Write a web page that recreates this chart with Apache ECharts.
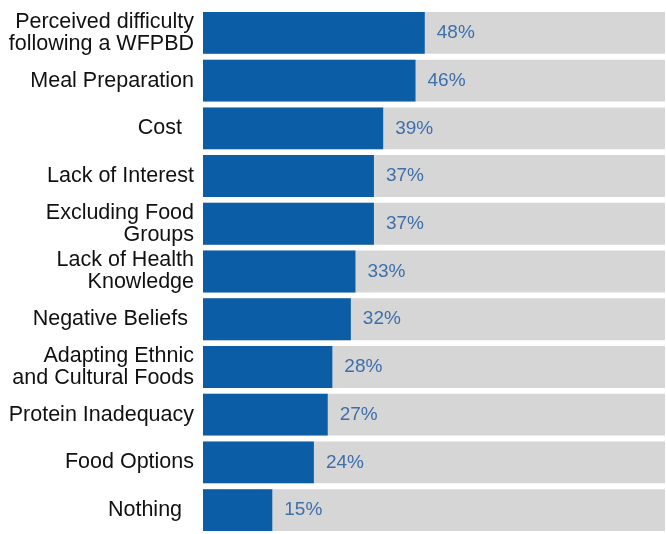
<!DOCTYPE html>
<html>
<head>
<meta charset="utf-8">
<script src="https://cdn.jsdelivr.net/npm/echarts@6/dist/echarts.min.js"></script>
<style>
  html, body { margin: 0; padding: 0; background: #ffffff; }
  #chart { width: 666px; height: 534px; }
</style>
</head>
<body>
<div id="chart"></div>
<script>
// Reported barriers to following a whole-food plant-based diet (share of respondents, %)
const categories = [
  'Perceived difficulty\nfollowing a WFPBD',
  'Meal Preparation',
  'Cost  ',
  'Lack of Interest',
  'Excluding Food\nGroups',
  'Lack of Health\nKnowledge',
  'Negative Beliefs ',
  'Adapting Ethnic\nand Cultural Foods',
  'Protein Inadequacy',
  'Food Options',
  'Nothing  '
];
const percentages = [48, 46, 39, 37, 37, 33, 32, 28, 27, 24, 15];
const axisMax = 100;

const chart = echarts.init(document.getElementById('chart'), null, { renderer: 'canvas' });

chart.setOption({
  animation: false,
  backgroundColor: '#ffffff',
  grid: { left: 203, right: 1, top: 9, bottom: -2, containLabel: false },
  xAxis: {
    type: 'value',
    min: 0,
    max: axisMax,
    show: false
  },
  yAxis: {
    type: 'category',
    data: categories,
    inverse: true,
    axisLine: { show: false },
    axisTick: { show: false },
    axisLabel: {
      margin: 9,
      color: '#111111',
      fontFamily: 'Liberation Sans, Arial, sans-serif',
      fontSize: 21.5,
      lineHeight: 22,
      align: 'right'
    }
  },
  series: [
    {
      type: 'bar',
      data: percentages,
      barCategoryGap: '12.3%',
      showBackground: true,
      backgroundStyle: { color: '#d6d6d6' },
      itemStyle: { color: '#0b5ea6' },
      label: {
        show: true,
        position: 'right',
        distance: 12,
        formatter: '{c}%',
        color: '#3f6fab',
        fontFamily: 'Liberation Sans, Arial, sans-serif',
        fontSize: 19
      }
    }
  ]
});
</script>
</body>
</html>
